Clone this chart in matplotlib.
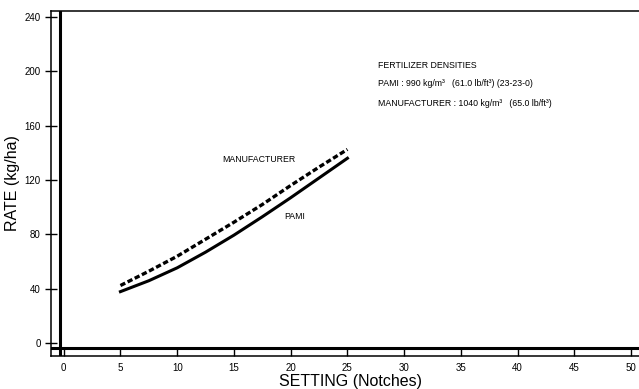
import matplotlib
matplotlib.use("Agg")
import matplotlib.pyplot as plt
import numpy as np

plt.rcParams["font.family"] = ["Liberation Sans", "DejaVu Sans"]

# setting (notches) and rate (kg/ha)
setting = [5, 7.5, 10, 12.5, 15, 17.5, 20, 22.5, 25]
rate_pami = [38, 46, 55.5, 67, 79.5, 93, 107, 121.5, 136]
rate_manufacturer = [42.5, 53, 64, 76.5, 89, 102, 116, 129.5, 142.5]

x_ticks = list(range(0, 51, 5))
y_ticks = [0, 40, 80, 120, 160, 200, 240]

fig = plt.figure(figsize=(6.39, 3.89), dpi=100)
ax = fig.add_axes([0.0798, 0.0848, 0.9374, 0.8877])

ax.plot(setting, rate_manufacturer, color="black", lw=2.4, ls=(0, (1.6, 0.8)))
ax.plot(setting, rate_pami, color="black", lw=2.2)

# heavy zero lines inside the thin frame
ax.axvline(-0.32, color="black", lw=2.2)
ax.axhline(-3.2, color="black", lw=2.2)

ax.set_xlim(-1.12, 51.66)
ax.set_ylim(-9.3, 244.4)
ax.set_xticks(x_ticks)
ax.set_yticks(y_ticks)
ax.tick_params(direction="in", length=6, width=1, labelsize=7, pad=5)
ax.tick_params(axis="y", direction="inout", length=9, pad=3)
for s in ax.spines.values():
    s.set_linewidth(1.1)

ax.set_xlabel("SETTING (Notches)", fontsize=11.5, labelpad=1)
ax.set_ylabel("RATE (kg/ha)", fontsize=11.5, labelpad=3)

ax.text(27.7, 204, "FERTILIZER DENSITIES", fontsize=6.3, va="center")
ax.text(27.7, 191, "PAMI : 990 kg/m³   (61.0 lb/ft³) (23-23-0)", fontsize=6.3, va="center")
ax.text(27.7, 176, "MANUFACTURER : 1040 kg/m³   (65.0 lb/ft³)", fontsize=6.3, va="center")

ax.text(14.0, 135, "MANUFACTURER", fontsize=6.3, va="center")
ax.text(19.4, 93, "PAMI", fontsize=6.3, va="center")

fig.savefig("out.png", dpi=100)
